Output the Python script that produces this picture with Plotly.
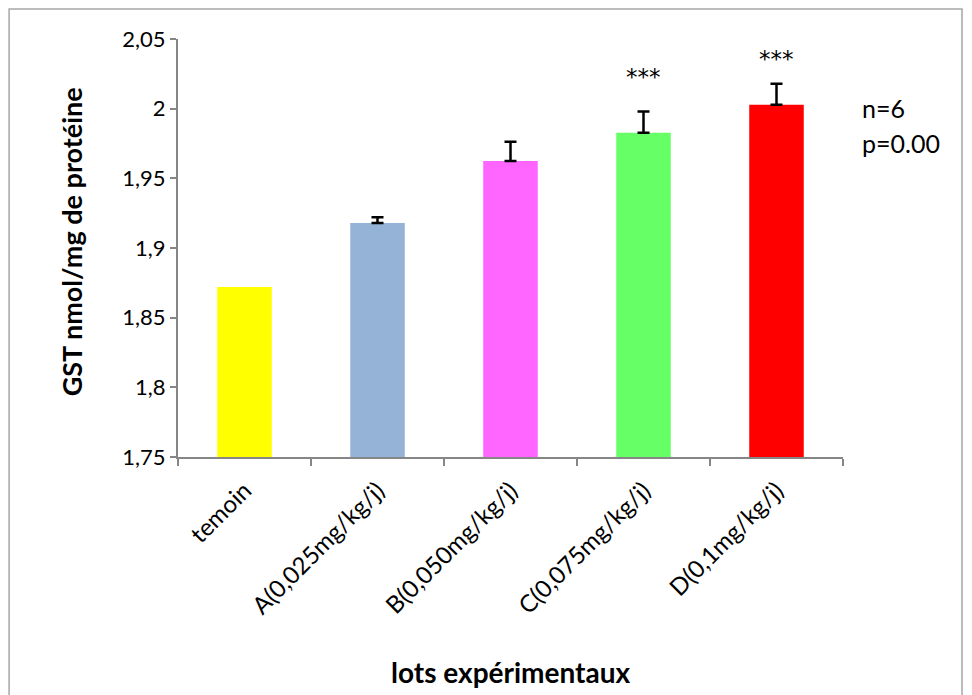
import plotly.graph_objects as go

categories = ["temoin", "A(0,025mg/kg/j)", "B(0,050mg/kg/j)", "C(0,075mg/kg/j)", "D(0,1mg/kg/j)"]
values = [1.872, 1.918, 1.9625, 1.9827, 2.0028]
colors = ["#FFFF00", "#95B3D7", "#FF66FF", "#66FF66", "#FF0000"]
err_cats = ["A(0,025mg/kg/j)", "B(0,050mg/kg/j)", "C(0,075mg/kg/j)", "D(0,1mg/kg/j)"]
err_base = [1.918, 1.9625, 1.9827, 2.0028]
err_plus = [0.004, 0.0137, 0.0153, 0.015]
y_tickvals = [1.75, 1.8, 1.85, 1.9, 1.95, 2.0, 2.05]
y_ticktext = ["1,75", "1,8", "1,85", "1,9", "1,95", "2", "2,05"]
star_cats = ["C(0,075mg/kg/j)", "D(0,1mg/kg/j)"]
star_y = [2.0225, 2.0355]

FONT = "Lato, 'Open Sans', sans-serif"

fig = go.Figure()
fig.add_trace(go.Bar(
    x=categories, y=values,
    marker=dict(color=colors, line=dict(width=0)),
    showlegend=False, hoverinfo="x+y",
))
fig.add_trace(go.Scatter(
    x=err_cats, y=err_base, mode="markers",
    marker=dict(size=0.1, color="rgba(0,0,0,0)"),
    error_y=dict(type="data", symmetric=False, array=err_plus,
                 arrayminus=[0] * len(err_plus), color="black", thickness=2.5, width=6),
    showlegend=False, hoverinfo="skip",
))

for c, y in zip(star_cats, star_y):
    fig.add_annotation(x=c, y=y, text="***", showarrow=False,
                       font=dict(size=23, color="black", family="DejaVu Sans"), yanchor="middle")

fig.add_annotation(xref="paper", yref="paper", x=1.025, y=0.835, text="n=6",
                   showarrow=False, xanchor="left", yanchor="middle",
                   font=dict(size=25, color="black", family=FONT))
fig.add_annotation(xref="paper", yref="paper", x=1.025, y=0.751, text="p=0.00",
                   showarrow=False, xanchor="left", yanchor="middle",
                   font=dict(size=25, color="black", family=FONT))

# axis titles
fig.add_annotation(xref="paper", yref="paper", x=0.5, y=-0.514, text="<b>lots expérimentaux</b>",
                   showarrow=False, xanchor="center", yanchor="middle",
                   font=dict(size=28, color="black", family=FONT))
fig.add_annotation(xref="paper", yref="paper", x=-0.16, y=0.515, text="<b>GST nmol/mg de protéine</b>",
                   showarrow=False, xanchor="center", yanchor="middle", textangle=-90,
                   font=dict(size=27, color="black", family=FONT))

# outer chart border
fig.add_shape(type="rect", xref="paper", yref="paper",
              x0=-0.254, x1=1.179, y0=-0.62, y1=1.072,
              line=dict(color="#A6A6A6", width=1.5), fillcolor="rgba(0,0,0,0)", layer="below")

fig.update_layout(
    width=972, height=695,
    margin=dict(l=170, r=137, t=31, b=246),
    paper_bgcolor="white", plot_bgcolor="white",
    bargap=0.59,
    font=dict(family=FONT, color="black"),
    xaxis=dict(
        type="category", tickson="boundaries", ticks="outside", ticklen=7,
        tickcolor="#868686", tickwidth=1.5,
        showline=True, linecolor="#868686", linewidth=2,
        tickangle=-45, tickfont=dict(size=24, family=FONT), ticklabelstandoff=8,
        showgrid=False, categoryorder="array", categoryarray=categories,
    ),
    yaxis=dict(
        range=[1.75, 2.05], tickvals=y_tickvals, ticktext=y_ticktext,
        ticks="outside", ticklen=6, tickcolor="#868686", tickwidth=1.5,
        showline=True, linecolor="#868686", linewidth=2,
        tickfont=dict(size=22, family=FONT), showgrid=False, zeroline=False,
    ),
)

fig.write_html("out.html")
